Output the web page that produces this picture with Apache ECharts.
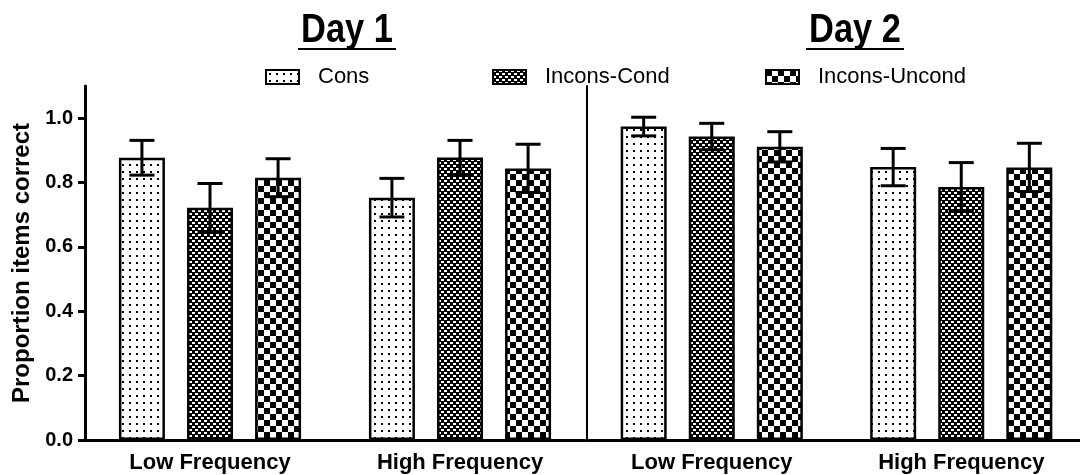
<!DOCTYPE html>
<html><head><meta charset="utf-8">
<script src="https://cdn.jsdelivr.net/npm/echarts@6/dist/echarts.min.js"></script>
<style>html,body{margin:0;padding:0;background:#fff}#c{width:1080px;height:475px}</style>
</head><body><div id="c"></div>
<script>
// ---- data ----
const categories = ['Low Frequency', 'High Frequency'];
const seriesNames = ['Cons', 'Incons-Cond', 'Incons-Uncond'];
const dayTitles = ['Day 1', 'Day 2'];
const yTicks = [0, 0.2, 0.4, 0.6, 0.8, 1.0];

const day1Cons = [0.877, 0.753];
const day1ConsErr = [0.054, 0.060];
const day1Cond = [0.722, 0.878];
const day1CondErr = [0.075, 0.053];
const day1Uncond = [0.815, 0.844];
const day1UncondErr = [0.059, 0.075];

const day2Cons = [0.974, 0.848];
const day2ConsErr = [0.029, 0.058];
const day2Cond = [0.943, 0.786];
const day2CondErr = [0.041, 0.076];
const day2Uncond = [0.911, 0.847];
const day2UncondErr = [0.047, 0.075];

// ---- style ----
const FONT = '"Liberation Sans", Arial, sans-serif';
const BAR_W = 46;
const BAR_GAP = 0.48;
const CAP = 25;

function makePattern(kind) {
  const c = document.createElement('canvas');
  const ctx = c.getContext('2d');
  if (kind === 'dots') {
    c.width = 7; c.height = 7;
    ctx.fillStyle = '#fff'; ctx.fillRect(0, 0, 7, 7);
    ctx.fillStyle = '#000'; ctx.fillRect(3, 3, 2, 2);
  } else if (kind === 'fine') {
    c.width = 6; c.height = 6;
    ctx.fillStyle = '#000'; ctx.fillRect(0, 0, 6, 6);
    ctx.fillStyle = '#fff'; ctx.fillRect(0, 0, 3, 2); ctx.fillRect(3, 3, 3, 2);
  } else {
    c.width = 12; c.height = 12;
    ctx.fillStyle = '#fff'; ctx.fillRect(0, 0, 12, 12);
    ctx.fillStyle = '#000'; ctx.fillRect(0, 0, 6, 6); ctx.fillRect(6, 6, 6, 6);
  }
  return { image: c, repeat: 'repeat' };
}
const patterns = [makePattern('dots'), makePattern('fine'), makePattern('check')];

function barSeries(axisIdx, idx, vals) {
  return {
    type: 'bar', name: seriesNames[idx], xAxisIndex: axisIdx, yAxisIndex: axisIdx,
    data: vals, barWidth: BAR_W, barGap: (BAR_GAP * 100) + '%',
    itemStyle: { color: patterns[idx], borderColor: '#000', borderWidth: 2.5 },
    silent: true, animation: false
  };
}
function errSeries(axisIdx, idx, vals, errs) {
  return {
    type: 'custom', xAxisIndex: axisIdx, yAxisIndex: axisIdx, z: 10, silent: true, animation: false,
    data: vals.map((v, i) => [i, v, errs[i]]),
    encode: { x: 0, y: 1 },
    renderItem(params, api) {
      const ci = api.value(0), v = api.value(1), e = api.value(2);
      const off = (idx - 1) * BAR_W * (1 + BAR_GAP);
      const top = api.coord([ci, v + e]);
      const bot = api.coord([ci, v - e]);
      const x = top[0] + off, h = CAP / 2;
      const st = { stroke: '#000', lineWidth: 3 };
      return { type: 'group', children: [
        { type: 'line', shape: { x1: x, y1: top[1], x2: x, y2: bot[1] }, style: st },
        { type: 'line', shape: { x1: x - h, y1: top[1], x2: x + h, y2: top[1] }, style: st },
        { type: 'line', shape: { x1: x - h, y1: bot[1], x2: x + h, y2: bot[1] }, style: st }
      ]};
    }
  };
}

const chart = echarts.init(document.getElementById('c'), null, { renderer: 'canvas' });

const xAxisBase = (g) => ({
  type: 'category', gridIndex: g, data: categories,
  axisLine: { show: true, lineStyle: { color: '#000', width: 3 } },
  axisTick: { show: false },
  axisLabel: { fontSize: 22, fontWeight: 'bold', color: '#000', fontFamily: FONT, margin: 12, interval: 0 },
  splitLine: { show: false }
});

const titleFont = 'bold 40px "Liberation Sans Narrow", "Liberation Sans", sans-serif';

chart.setOption({
  animation: false,
  backgroundColor: '#fff',
  textStyle: { fontFamily: FONT },
  grid: [
    { left: 85, right: 495, top: 86, bottom: 35, outerBoundsMode: 'none', containLabel: false },
    { left: 587, right: -6, top: 86, bottom: 35, outerBoundsMode: 'none', containLabel: false }
  ],
  xAxis: [xAxisBase(0), xAxisBase(1)],
  yAxis: [
    {
      type: 'value', gridIndex: 0, min: 0, max: 1.1, interval: 0.2,
      axisLine: { show: true, lineStyle: { color: '#000', width: 3 } },
      axisTick: { show: true, length: 7, lineStyle: { color: '#000', width: 3 }, customValues: yTicks },
      axisLabel: { customValues: yTicks, formatter: v => v.toFixed(1), fontSize: 20, fontWeight: 'bold',
                   color: '#000', fontFamily: FONT, margin: 12 },
      splitLine: { show: false },
      name: 'Proportion items correct', nameLocation: 'middle', nameGap: 51,
      nameTextStyle: { fontSize: 24, fontWeight: 'bold', color: '#000', fontFamily: FONT }
    },
    {
      type: 'value', gridIndex: 1, min: 0, max: 1.1, interval: 0.2,
      axisLine: { show: true, lineStyle: { color: '#000', width: 2 } },
      axisTick: { show: false }, axisLabel: { show: false }, splitLine: { show: false }
    }
  ],
  legend: seriesNames.map((n, i) => ({
    data: [n], left: [265, 492, 765][i], top: 66, padding: 0, icon: 'rect',
    itemWidth: 33, itemHeight: 14, selectedMode: false,
    itemStyle: { borderColor: '#000', borderWidth: 2 },
    textStyle: { fontSize: 22, color: '#000', fontFamily: FONT, padding: [0, 0, 0, 14] }
  })),
  graphic: [
    { type: 'text', x: 347, y: 31, scaleX: 0.86, style: { text: dayTitles[0], font: titleFont, textAlign: 'center', textVerticalAlign: 'middle', fill: '#000' } },
    { type: 'line', shape: { x1: 298, y1: 49, x2: 396, y2: 49 }, style: { stroke: '#000', lineWidth: 2 } },
    { type: 'text', x: 855, y: 31, scaleX: 0.86, style: { text: dayTitles[1], font: titleFont, textAlign: 'center', textVerticalAlign: 'middle', fill: '#000' } },
    { type: 'line', shape: { x1: 806, y1: 49, x2: 904, y2: 49 }, style: { stroke: '#000', lineWidth: 2 } }
  ],
  series: [
    barSeries(0, 0, day1Cons), barSeries(0, 1, day1Cond), barSeries(0, 2, day1Uncond),
    errSeries(0, 0, day1Cons, day1ConsErr), errSeries(0, 1, day1Cond, day1CondErr), errSeries(0, 2, day1Uncond, day1UncondErr),
    barSeries(1, 0, day2Cons), barSeries(1, 1, day2Cond), barSeries(1, 2, day2Uncond),
    errSeries(1, 0, day2Cons, day2ConsErr), errSeries(1, 1, day2Cond, day2CondErr), errSeries(1, 2, day2Uncond, day2UncondErr)
  ]
});
</script></body></html>
